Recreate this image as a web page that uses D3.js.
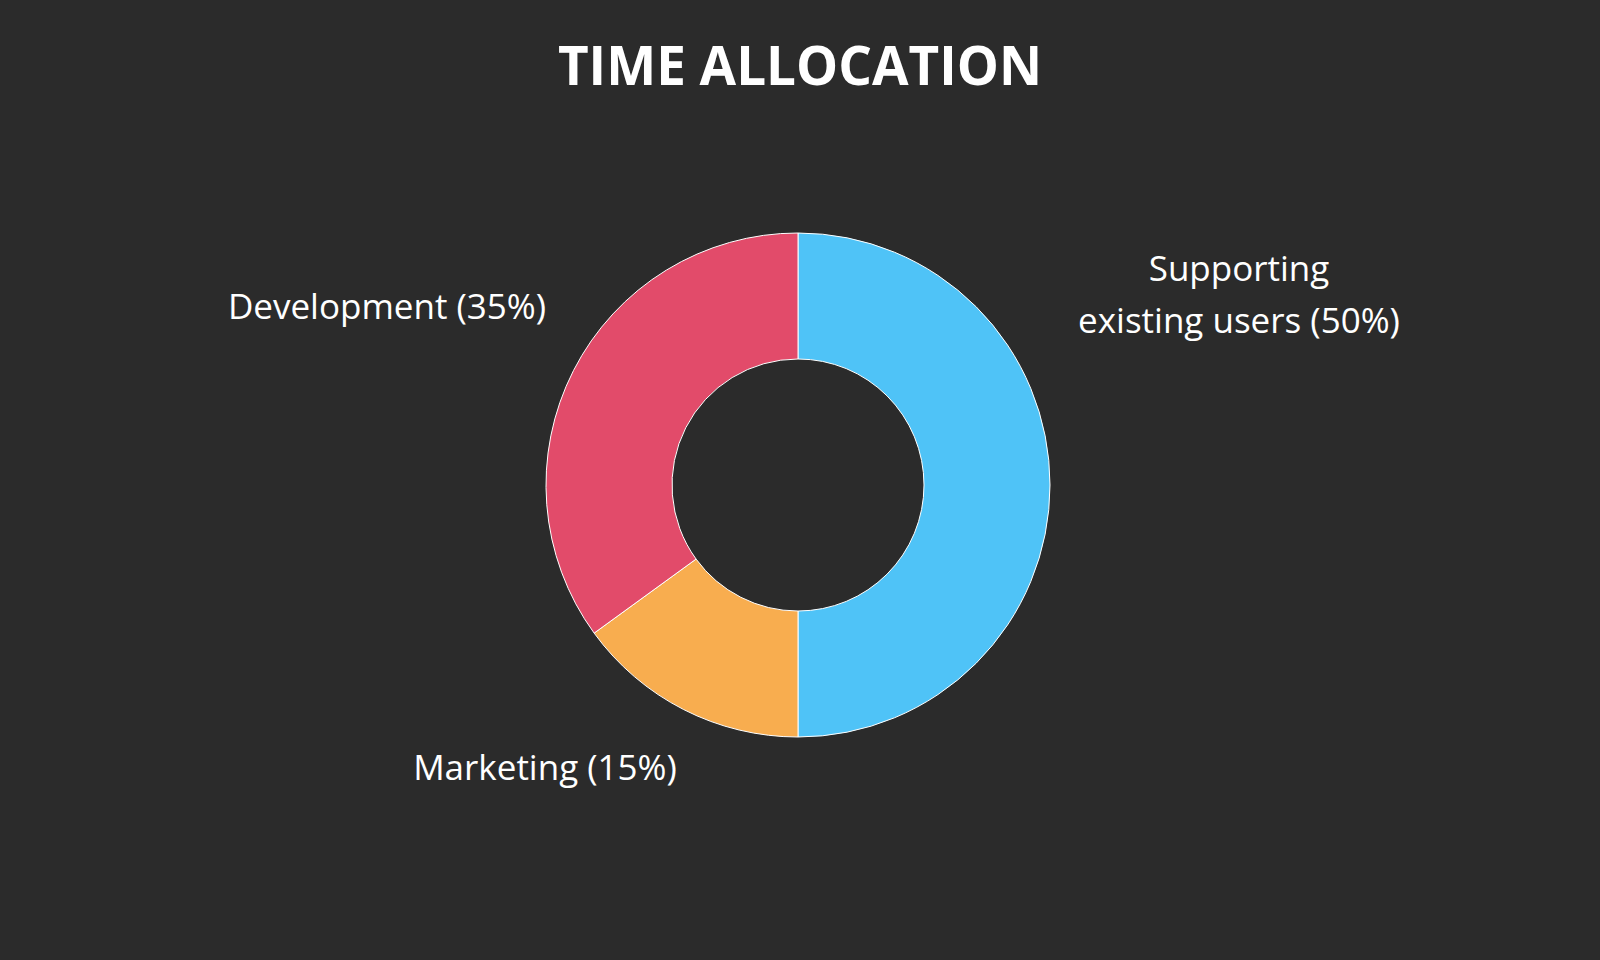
<!DOCTYPE html>
<html>
<head>
<meta charset="utf-8">
<script src="https://cdn.jsdelivr.net/npm/d3@7"></script>
<style>
  html, body { margin: 0; padding: 0; background: #2b2b2b; }
  svg { display: block; }
</style>
</head>
<body>
<svg id="chart" width="1600" height="960"></svg>
<script>
const categories = ["Supporting existing users", "Marketing", "Development"];
const values = [50, 15, 35];
const colors = ["#4fc3f7", "#f8ad4f", "#e24b6a"];
const labelLines = [["Supporting", "existing users (50%)"], ["Marketing (15%)"], ["Development (35%)"]];
const title = "TIME ALLOCATION";

const W = 1600, H = 960;
const cx = 798, cy = 485, outerR = 252, innerR = 126;
// label baseline anchor offsets (layout only) relative to chart centre
const labelOffsets = [[441, -204], [-253, 295], [-411, -166]];

const svg = d3.select("#chart");
svg.append("rect").attr("width", W).attr("height", H).attr("fill", "#2b2b2b");

svg.append("text")
  .attr("x", 800).attr("y", 85)
  .attr("text-anchor", "middle")
  .attr("fill", "#ffffff")
  .style("font-family", "'Open Sans', sans-serif")
  .style("font-weight", 700)
  .style("font-size", "53px")
  .text(title);

const data = categories.map((c, i) => ({ name: c, value: values[i], color: colors[i], lines: labelLines[i], off: labelOffsets[i] }));
const pie = d3.pie().value(d => d.value).sort(null);
const arc = d3.arc().innerRadius(innerR).outerRadius(outerR);

const g = svg.append("g").attr("transform", `translate(${cx},${cy})`);
g.selectAll("path").data(pie(data)).join("path")
  .attr("d", arc)
  .attr("fill", d => d.data.color)
  .attr("stroke", "#ffffff")
  .attr("stroke-width", 1);

const labels = g.selectAll("text.lbl").data(pie(data)).join("text")
  .attr("class", "lbl")
  .attr("text-anchor", "middle")
  .attr("fill", "#ffffff")
  .style("font-family", "'Open Sans', sans-serif")
  .style("font-size", "35px")
  .attr("transform", d => `translate(${d.data.off[0]},${d.data.off[1]})`);
labels.each(function(d) {
  const t = d3.select(this);
  d.data.lines.forEach((ln, i) => {
    t.append("tspan").attr("x", 0).attr("dy", i === 0 ? 0 : 52).text(ln);
  });
});
</script>
</body>
</html>
